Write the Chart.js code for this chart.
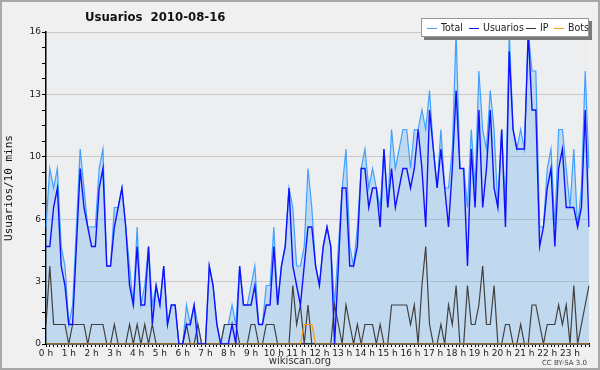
<!DOCTYPE html>
<html>
<head>
<meta charset="utf-8">
<script src="https://cdn.jsdelivr.net/npm/chart.js@4.4.0/dist/chart.umd.min.js"></script>
<style>
html, body { margin: 0; padding: 0; background: #f0f0f0; }
#wrap { position: relative; width: 600px; height: 370px; overflow: hidden; }
#chart { position: absolute; left: 0; top: 0; }
.title { position: absolute; left: 85px; top: 9px; font: bold 13px "DejaVu Sans Condensed", "DejaVu Sans", sans-serif; color: #111; white-space: pre; }
.legend { position: absolute; left: 421px; top: 18px; width: 166px; height: 17px; background: #fff;
  border: 1px solid #999; box-shadow: 3px 3px 0 #7a7a7a; font: 10.5px "DejaVu Sans Condensed", "DejaVu Sans", sans-serif; color: #222;
  white-space: nowrap; }
.legend span.it { position: absolute; top: 2px; }
.legend i { display: inline-block; width: 10px; height: 0; border-top: 1px solid; vertical-align: middle; margin-right: 4px; }
.foot { position: absolute; top: 355px; left: 0; width: 600px; text-align: center; font: 10px "DejaVu Sans", sans-serif; color: #333; }
.cc { position: absolute; top: 359px; right: 13px; font: 7px "DejaVu Sans", sans-serif; color: #444; }
</style>
</head>
<body>
<div id="wrap">
  <canvas id="chart" width="600" height="370"></canvas>
  <div class="title">Usuarios  2010-08-16</div>
  <div class="legend">
    <span class="it" style="left:5px"><i style="border-color:#3fa0ff"></i>Total</span>
    <span class="it" style="left:47px"><i style="border-color:#1010ff"></i>Usuarios</span>
    <span class="it" style="left:104px"><i style="border-color:#333"></i>IP</span>
    <span class="it" style="left:132px"><i style="border-color:#ff9900"></i>Bots</span>
  </div>
  <div class="foot">wikiscan.org</div>
  <div class="cc">CC BY-SA 3.0</div>
</div>
<script>
// tick labels of the x axis (one per hour)
const hourLabels = ['0 h','1 h','2 h','3 h','4 h','5 h','6 h','7 h','8 h','9 h','10 h','11 h',
  '12 h','13 h','14 h','15 h','16 h','17 h','18 h','19 h','20 h','21 h','22 h','23 h'];

// 10 minute slots, 144 per day
const slots = [];
for (let h = 0; h < 24; h++) {
  for (let m = 0; m < 60; m += 10) slots.push(h + ':' + (m < 10 ? '0' + m : m));
}

const total = [
  6,9,8,9,5,4,1,2,6,10, 8,6,6,6,9,10,4,4,7,7, 8,6,4,2,6,2,3,5,2,3,
  2,4,1,2,2,0,0,2,1,2, 1,0,0,4,3,1,0,1,1,2, 1,4,2,2,3,4,1,1,3,3,
  6,2,4,5,8,7,4,4,5,9, 7,4,3,5,6,5,2,5,8,10, 5,4,6,9,10,8,9,8,7,10,
  7,11,9,10,11,11,9,11,11,12, 11,13,10,8,11,8,8,10,16,9, 9,7,11,8,14,11,10,13,11,7,
  11,7,16,11,10,11,10,16,14,14, 6,6,9,10,6,11,11,9,7,10, 6,8,14,9
];
const usuarios = [
  5,5,7,8,4,3,1,1,5,9, 7,6,5,5,8,9,4,4,6,7, 8,6,3,2,5,2,2,5,1,3,
  2,4,1,2,2,0,0,1,1,2, 0,0,0,4,3,1,0,0,0,1, 0,4,2,2,2,3,1,1,2,2,
  5,2,4,5,8,4,3,2,4,6, 6,4,3,5,6,5,0,4,8,8, 4,4,5,9,9,7,8,8,6,10,
  7,9,7,8,9,9,8,9,11,9, 6,12,10,8,10,8,6,9,13,9, 9,4,10,7,12,7,9,12,8,7,
  11,6,15,11,10,10,10,16,12,12, 5,6,8,9,5,9,10,7,7,7, 6,7,12,6
];
const ip = [
  1,4,1,1,1,1,0,1,1,1, 1,0,1,1,1,1,0,0,1,0, 0,0,1,0,1,0,1,0,1,0,
  0,0,0,0,0,0,0,1,0,0, 1,0,0,0,0,0,0,1,1,1, 1,0,0,0,1,1,0,0,1,1,
  1,0,0,0,0,3,1,2,0,2, 0,0,0,0,0,0,2,1,0,2, 1,0,1,0,1,1,1,0,1,0,
  0,2,2,2,2,2,1,2,0,3, 5,1,0,0,1,0,2,1,3,0, 0,3,1,1,2,4,1,1,3,0,
  0,1,1,0,0,1,0,0,2,2, 1,0,1,1,1,2,1,2,0,3, 0,1,2,3
];
const bots = [
  0,0,0,0,0,0,0,0,0,0, 0,0,0,0,0,0,0,0,0,0, 0,0,0,0,0,0,0,0,0,0,
  0,0,0,0,0,0,0,0,0,0, 0,0,0,0,0,0,0,0,0,0, 0,0,0,0,0,0,0,0,0,0,
  0,0,0,0,0,0,0,0,1,1, 1,0,0,0,0,0,0,0,0,0, 0,0,0,0,0,0,0,0,0,0,
  0,0,0,0,0,0,0,0,0,0, 0,0,0,0,0,0,0,0,0,0, 0,0,0,0,0,0,0,0,0,0,
  0,0,0,0,0,0,0,0,0,0, 0,0,0,0,0,0,0,0,0,0, 0,0,0,0
];

const isMajor = v => Math.abs(v / 3.2 - Math.round(v / 3.2)) < 1e-6;

const background = {
  id: 'background',
  beforeDraw(chart) {
    const ctx = chart.ctx, a = chart.chartArea;
    ctx.save();
    ctx.fillStyle = '#f0f0f0';
    ctx.fillRect(0, 0, chart.width, chart.height);
    ctx.strokeStyle = '#a8a8a8';
    ctx.lineWidth = 2;
    ctx.strokeRect(1, 1, chart.width - 2, chart.height - 2);
    ctx.fillStyle = '#eceef0';
    ctx.fillRect(a.left, a.top, a.right - a.left, a.bottom - a.top);
    ctx.restore();
  }
};

Chart.defaults.font.family = '"DejaVu Sans", sans-serif';
Chart.defaults.font.size = 9;
Chart.defaults.color = '#222';

new Chart(document.getElementById('chart').getContext('2d'), {
  type: 'line',
  data: {
    labels: slots,
    datasets: [
      { label: 'Total', data: total, borderColor: '#3fa0ff', borderWidth: 1.2,
        fill: 'origin', backgroundColor: 'rgba(100,175,235,0.32)', order: 4 },
      { label: 'IP', data: ip, borderColor: '#404040', borderWidth: 1.2, order: 3 },
      { label: 'Bots', data: bots, borderColor: '#ff9900', borderWidth: 1.2, order: 2 },
      { label: 'Usuarios', data: usuarios, borderColor: '#1010ff', borderWidth: 1.4, order: 1 }
    ]
  },
  options: {
    responsive: false,
    animation: false,
    events: [],
    layout: { padding: { top: 32, right: 11, left: 0, bottom: 0 } },
    elements: { point: { radius: 0 }, line: { tension: 0 } },
    plugins: { legend: { display: false }, title: { display: false }, tooltip: { enabled: false } },
    scales: {
      x: {
        z: 1,
        offset: false,
        afterFit: s => { s.height = 26; },
        grid: { drawOnChartArea: false, drawTicks: true, tickLength: 3, tickColor: '#000' },
        border: { color: '#000', width: 1.5 },
        ticks: {
          autoSkip: false, maxRotation: 0, padding: 1, color: '#222',
          callback: (v, i) => (i % 6 === 0 ? hourLabels[i / 6] : '')
        }
      },
      y: {
        min: 0, max: 16,
        afterFit: s => { s.width = 46; },
        title: { display: true, text: 'Usuarios/10 mins', color: '#111',
          font: { family: '"DejaVu Sans Mono", monospace', size: 11 }, padding: { top: 3, bottom: 0 } },
        grid: {
          color: c => (isMajor(c.tick.value) ? '#c8c8c8' : 'rgba(0,0,0,0)'),
          tickColor: '#000', tickLength: 4
        },
        border: { color: '#000', width: 1.5 },
        ticks: {
          stepSize: 0.8, autoSkip: false, padding: 1, color: '#222',
          callback: v => (isMajor(v) ? String(Math.round(v)) : '')
        }
      }
    }
  },
  plugins: [background]
});
</script>
</body>
</html>
